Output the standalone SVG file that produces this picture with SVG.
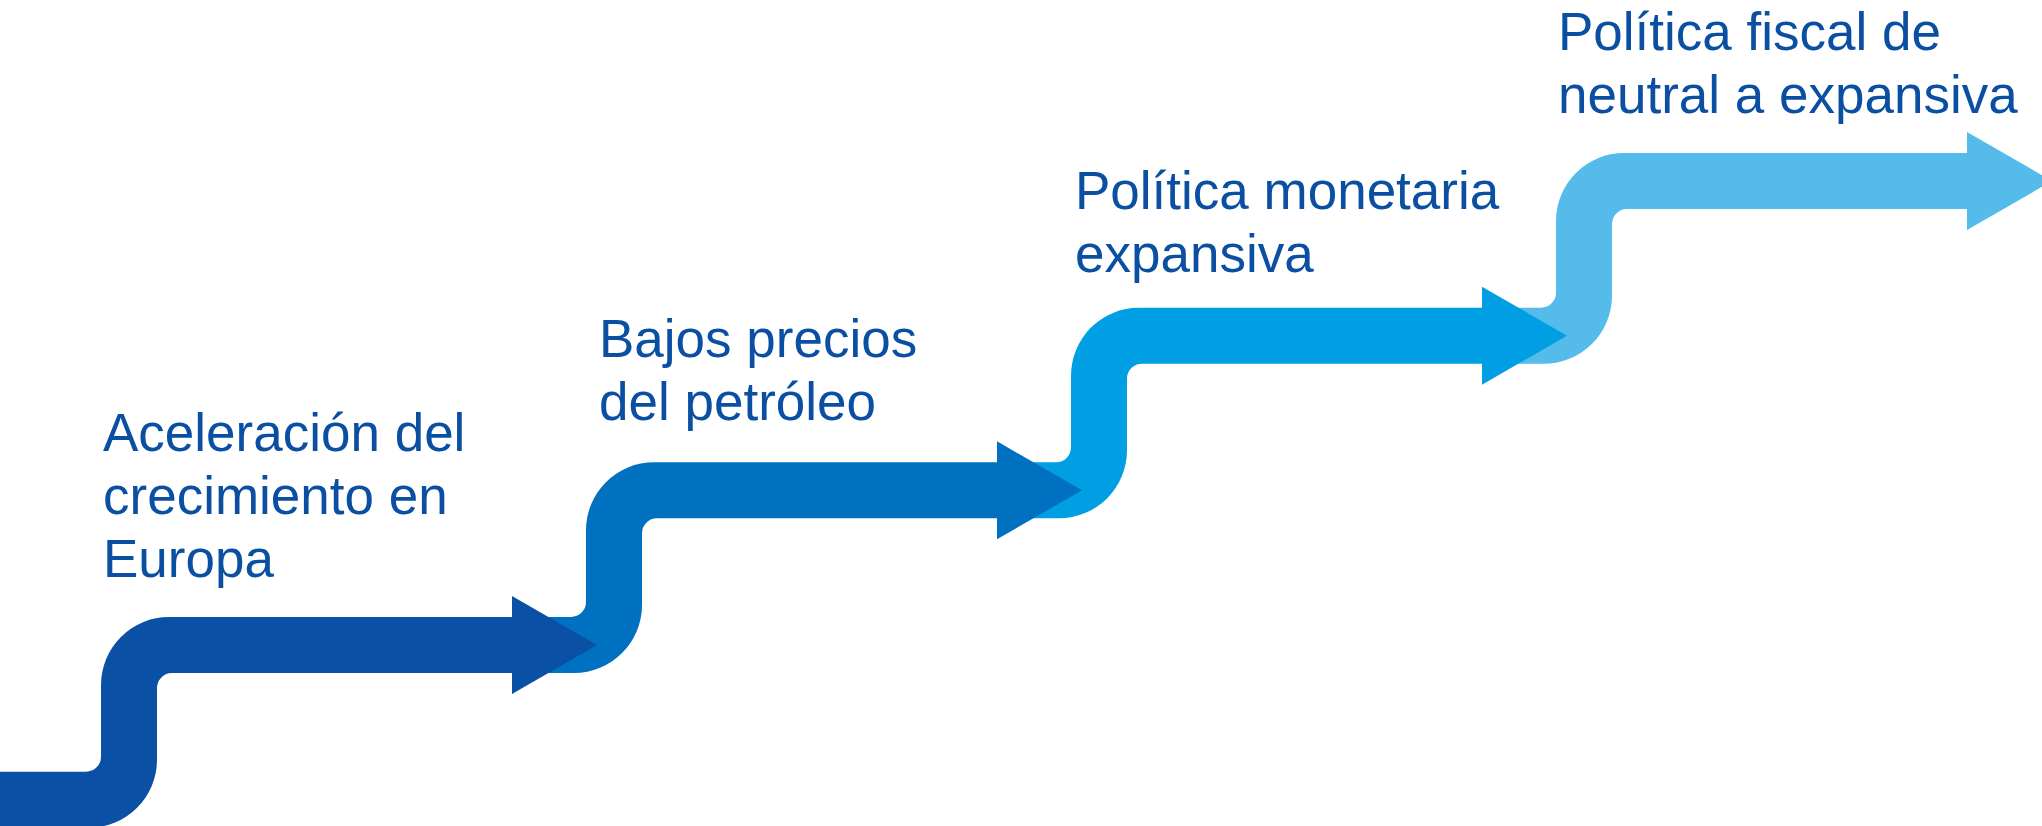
<svg xmlns="http://www.w3.org/2000/svg" width="2042" height="826" viewBox="0 0 2042 826">
  <style>
    .lbl { font-family: "Liberation Sans", Arial, sans-serif; font-size: 53px; fill: #0B4FA2; }
    .s1 { fill: #0A51A5; }
    .s2 { fill: #0070C0; }
    .s3 { fill: #009FE3; }
    .s4 { fill: #55BBEB; }
  </style>
  <rect width="2042" height="826" fill="#FFFFFF"/>
  <g id="step4">
    <path class="s4" d="M 1485 307.7 L 1541 307.7 A 15 15 0 0 0 1556 292.7 L 1556 221 A 68 68 0 0 1 1624 153 L 1967 153 L 1967 132 L 2052 181 L 1967 230 L 1967 209 L 1627 209 A 15 15 0 0 0 1612 224 L 1612 295.7 A 68 68 0 0 1 1544 363.7 L 1485 363.7 Z"/>
    <text class="lbl" x="1558" y="50">Política fiscal de</text>
    <text class="lbl" x="1558" y="113">neutral a expansiva</text>
  </g>
  <g id="step3">
    <path class="s3" d="M 1000 462.3 L 1056 462.3 A 15 15 0 0 0 1071 447.3 L 1071 375.7 A 68 68 0 0 1 1139 307.7 L 1482 307.7 L 1482 286.7 L 1567 335.7 L 1482 384.7 L 1482 363.7 L 1142 363.7 A 15 15 0 0 0 1127 378.7 L 1127 450.3 A 68 68 0 0 1 1059 518.3 L 1000 518.3 Z"/>
    <text class="lbl" x="1075" y="209">Política monetaria</text>
    <text class="lbl" x="1075" y="272">expansiva</text>
  </g>
  <g id="step2">
    <path class="s2" d="M 515 617 L 571 617 A 15 15 0 0 0 586 602 L 586 530.3 A 68 68 0 0 1 654 462.3 L 997 462.3 L 997 441.3 L 1082 490.3 L 997 539.3 L 997 518.3 L 657 518.3 A 15 15 0 0 0 642 533.3 L 642 605 A 68 68 0 0 1 574 673 L 515 673 Z"/>
    <text class="lbl" x="599" y="357">Bajos precios</text>
    <text class="lbl" x="599" y="420">del petróleo</text>
  </g>
  <g id="step1">
    <path class="s1" d="M -5 771.7 L 86 771.7 A 15 15 0 0 0 101 756.7 L 101 685 A 68 68 0 0 1 169 617 L 512 617 L 512 596 L 597 645 L 512 694 L 512 673 L 172 673 A 15 15 0 0 0 157 688 L 157 759.7 A 68 68 0 0 1 89 827.7 L -5 827.7 Z"/>
    <text class="lbl" x="103" y="451">Aceleración del</text>
    <text class="lbl" x="103" y="514">crecimiento en</text>
    <text class="lbl" x="103" y="577">Europa</text>
  </g>
  <g id="connectors"></g>
</svg>
